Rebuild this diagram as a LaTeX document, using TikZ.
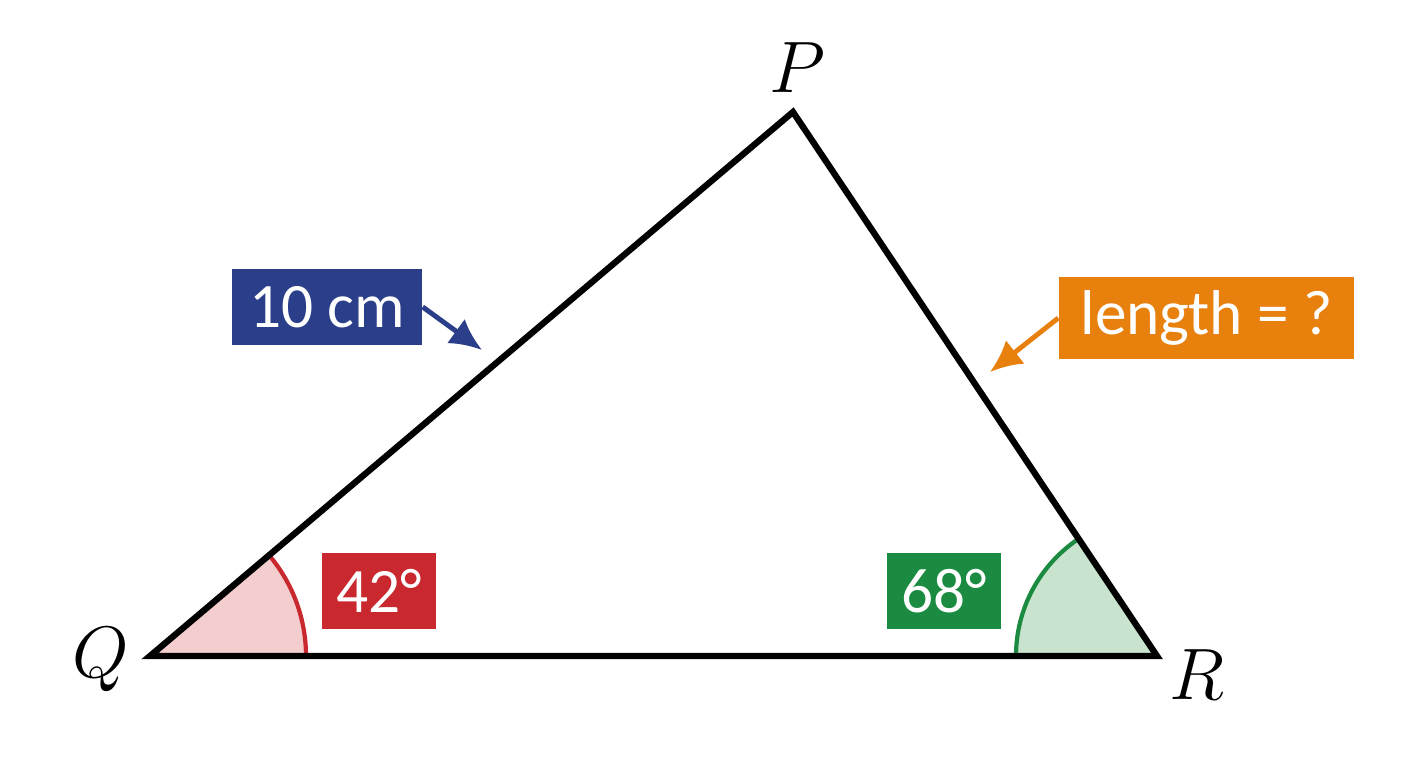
\documentclass[tikz,border=0pt]{standalone}
\usepackage{fontspec}
\setsansfont{Carlito}
\usepackage{tikz}
\usetikzlibrary{arrows.meta,angles}

\definecolor{sideblue}{RGB}{42,62,138}
\definecolor{sideorange}{RGB}{232,128,14}
\definecolor{anglered}{RGB}{200,40,46}
\definecolor{anglegreen}{RGB}{26,139,64}
\definecolor{redfill}{RGB}{244,206,206}
\definecolor{greenfill}{RGB}{201,228,206}

\tikzset{
  tag/.style={fill=#1, text=white, inner sep=0pt, minimum height=0.76cm,
    font=\sffamily\fontsize{18}{20}\selectfont},
  vertex/.style={font=\fontsize{20}{22}\selectfont},
  pointer/.style={line width=1.4pt, draw=#1, -{Latex[length=3.2mm,width=3mm]}}
}

\begin{document}
\begin{tikzpicture}
\useasboundingbox (0,0) rectangle (14.08,7.68);

\coordinate (Q) at (1.50,1.12);
\coordinate (R) at (11.57,1.12);
\coordinate (P) at (7.93,6.56);

% angle marks
\pic[draw=anglered, fill=redfill, line width=1.2pt, angle radius=1.56cm] {angle=R--Q--P};
\pic[draw=anglegreen, fill=greenfill, line width=1.2pt, angle radius=1.41cm] {angle=P--R--Q};

\draw[line width=1.8pt, line join=miter] (Q)--(R)--(P)--cycle;

\node[vertex] (lP) at (7.97,7.00) {$P$};
\node[vertex] (lQ) at (1.01,1.08) {$Q$};
\node[vertex] (lR) at (11.97,0.93) {$R$};

\node[tag=sideblue, minimum width=1.90cm] (cm) at (3.27,4.61) {10 cm};
\node[tag=sideorange, minimum width=2.95cm, minimum height=0.82cm] (len) at (12.065,4.50) {length = ?};
\node[tag=anglered, minimum width=1.14cm] (a42) at (3.79,1.77) {42°};
\node[tag=anglegreen, minimum width=1.14cm] (a68) at (9.44,1.77) {68°};

\coordinate (cmtip) at (4.82,4.18);
\coordinate (lentip) at (9.90,3.96);
\draw[pointer=sideblue] (cm.east)--(cmtip);
\draw[pointer=sideorange] (len.west)--(lentip);
\end{tikzpicture}
\end{document}
